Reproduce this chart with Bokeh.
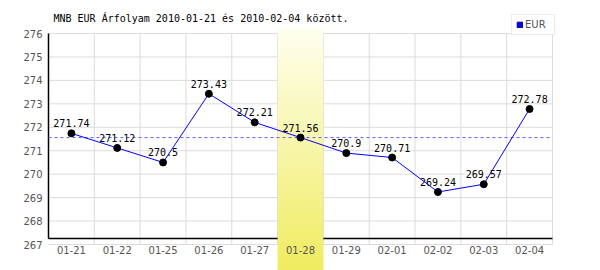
import numpy as np
from bokeh.plotting import figure
from bokeh.models import Range1d, ColumnDataSource, Legend, LegendItem, Label
from bokeh.core.properties import value
from bokeh.embed import file_html
from bokeh.resources import INLINE

# ---- data ----
dates = ["01-21", "01-22", "01-25", "01-26", "01-27", "01-28",
         "01-29", "02-01", "02-02", "02-03", "02-04"]
rates = [271.74, 271.12, 270.5, 273.43, 272.21, 271.56,
         270.9, 270.71, 269.24, 269.57, 272.78]
labels = ["271.74", "271.12", "270.5", "273.43", "272.21", "271.56",
          "270.9", "270.71", "269.24", "269.57", "272.78"]
y_ticks = [267, 268, 269, 270, 271, 272, 273, 274, 275, 276]
highlight = "01-28"
series_name = "EUR"
title_text = "MNB EUR Árfolyam 2010-01-21 és 2010-02-04 között."

W, H = 600, 270
left_px, right_px = 48, 552
top_px, bottom_px = 33, 244
n = len(dates)
ymin, ymax = y_ticks[0], y_ticks[-1]
ppx = (right_px - left_px) / n
ppy = (bottom_px - top_px) / (ymax - ymin)

x_range = Range1d(-left_px / ppx, n + (W - right_px) / ppx)
y_range = Range1d(ymin - (H - bottom_px) / ppy, ymax + top_px / ppy)

p = figure(width=W, height=H, x_range=x_range, y_range=y_range,
           output_backend="svg", toolbar_location=None,
           min_border=0, min_border_left=0, min_border_right=0,
           min_border_top=0, min_border_bottom=0)
p.axis.visible = False
p.grid.visible = False
p.outline_line_color = None
p.background_fill_color = "white"
p.border_fill_color = "white"

xs = [i + 0.5 for i in range(n)]

# grid
p.segment(x0=[0] * len(y_ticks), y0=y_ticks, x1=[n] * len(y_ticks), y1=y_ticks,
          line_color="#dcdcdc", line_width=1)
p.segment(x0=list(range(1, n + 1)), y0=[ymin] * n, x1=list(range(1, n + 1)), y1=[ymax] * n,
          line_color="#dcdcdc", line_width=1)

# axis lines
axis_y = ymin + 6 / ppy
p.segment(x0=[0], y0=[ymax], x1=[0], y1=[axis_y], line_color="black", line_width=1.5)
p.segment(x0=[0], y0=[axis_y], x1=[n], y1=[axis_y], line_color="black", line_width=1.5)

# highlight band with gradient
hi = dates.index(highlight)
band_top = ymax + 5 / ppy
band_bottom = y_range.start
rows = 242
img = np.zeros((rows, 1), dtype=np.uint32)
view = img.view(dtype=np.uint8).reshape((rows, 1, 4))
top_c = np.array([255, 255, 240])
bot_c = np.array([240, 236, 96])
for r in range(rows):
    t = r / (rows - 1)  # 0 bottom, 1 top
    c = bot_c + (top_c - bot_c) * t
    view[r, 0, 0] = int(c[0]); view[r, 0, 1] = int(c[1]); view[r, 0, 2] = int(c[2]); view[r, 0, 3] = 255
p.image_rgba(image=[img], x=hi, y=band_bottom, dw=1, dh=band_top - band_bottom)

# reference dashed line at highlighted value
p.segment(x0=[0], y0=[rates[hi]], x1=[n], y1=[rates[hi]],
          line_color="#5c5cff", line_width=1, line_dash="3 3")

src = ColumnDataSource(dict(x=xs, y=rates, lab=labels))
p.line("x", "y", source=src, line_color="#0000ff", line_width=1)
p.scatter("x", "y", source=src, size=7, fill_color="black", line_color="black")
p.text("x", "y", text="lab", source=src, text_align="center", text_baseline="middle",
       y_offset=-10, text_font=value("DejaVu Sans Mono"), text_font_size="10px",
       text_color="black")

# y tick labels
p.text(x=[0] * len(y_ticks), y=y_ticks, text=[str(v) for v in y_ticks],
       x_offset=-6, text_align="right", text_baseline="middle",
       text_font=value("DejaVu Sans"), text_font_size="10px", text_color="#555555")
# x tick labels
p.text(x=xs, y=[ymin] * n, text=dates, y_offset=5, text_align="center",
       text_baseline="middle", text_font=value("DejaVu Sans"),
       text_font_size="10px", text_color="#555555")

# title
p.add_layout(Label(x=53, y=H - 18, x_units="screen", y_units="screen",
                   text=title_text, text_baseline="middle",
                   text_font="DejaVu Sans Mono", text_font_size="10px",
                   text_color="black"))

# legend (swatch renderer has no drawable rows)
leg_src = ColumnDataSource(dict(left=[np.nan], right=[np.nan], top=[np.nan], bottom=[np.nan]))
leg_r = p.quad(left="left", right="right", top="top", bottom="bottom", source=leg_src,
               fill_color="#0000ff", line_color="#000080")
legend = Legend(items=[LegendItem(label=series_name, renderers=[leg_r])],
                location=(511, H - 35), padding=4, margin=0, spacing=0,
                glyph_width=7, glyph_height=7, label_standoff=2,
                label_height=11, label_width=25,
                label_text_font="DejaVu Sans", label_text_font_size="10px",
                label_text_color="#555555", border_line_color="#d8d8d8",
                border_line_width=1, background_fill_color="white",
                background_fill_alpha=1)
p.add_layout(legend, "center")

open("out.html", "w").write(file_html(p, INLINE))
